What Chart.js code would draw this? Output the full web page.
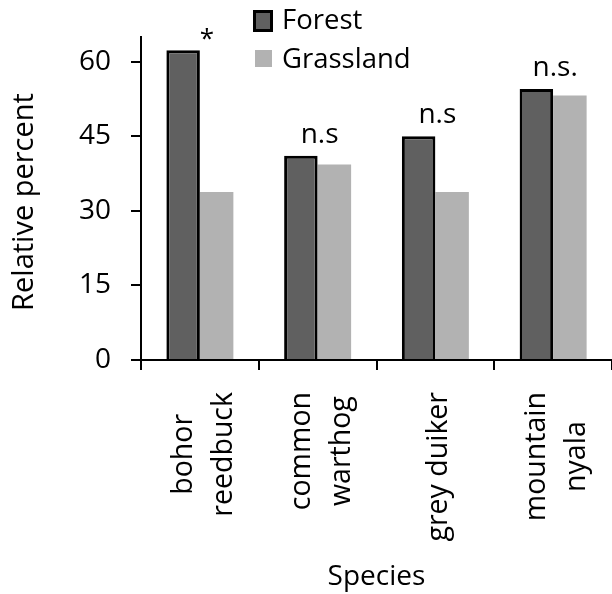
<!DOCTYPE html>
<html>
<head>
<meta charset="utf-8">
<script src="https://cdn.jsdelivr.net/npm/chart.js@4"></script>
<style>
  html, body { margin: 0; padding: 0; background: #fff; }
  #wrap { width: 612px; height: 594px; }
</style>
</head>
<body>
<div id="wrap"><canvas id="chart" width="612" height="594"></canvas></div>
<script>
// Chart data
const species = [['bohor', 'reedbuck'], ['common', 'warthog'], ['grey duiker'], ['mountain', 'nyala']];
const forest = [62.3, 41.1, 45.0, 54.5];
const grassland = [33.8, 39.3, 33.8, 53.2];
const yTicks = [0, 15, 30, 45, 60];
const marks = ['*', 'n.s', 'n.s', 'n.s.'];

const FONT = '"Open Sans"';
Chart.defaults.font.family = FONT;
Chart.defaults.color = '#000';

// Draws rotated category labels, axis titles, significance marks and legend
const decor = {
  id: 'decor',
  afterDraw(chart) {
    const { ctx, scales: { x, y } } = chart;
    ctx.save();
    ctx.fillStyle = '#000';

    // category labels, reading bottom to top
    ctx.font = `28.5px ${FONT}`;
    species.forEach((lines, i) => {
      const cx = x.getPixelForValue(i);
      const maxW = Math.max(...lines.map(l => ctx.measureText(l).width));
      lines.forEach((line, k) => {
        const bx = cx + 12 + (k - (lines.length - 1) / 2) * 40;
        ctx.save();
        ctx.translate(bx, 392 + maxW / 2);
        ctx.rotate(-Math.PI / 2);
        ctx.textAlign = 'center';
        ctx.textBaseline = 'alphabetic';
        ctx.fillText(line, 0, 0);
        ctx.restore();
      });
    });

    // axis titles
    ctx.textAlign = 'center';
    ctx.textBaseline = 'alphabetic';
    ctx.font = `28px ${FONT}`;
    ctx.fillText('Species', (chart.chartArea.left + chart.chartArea.right) / 2, 585);
    ctx.save();
    ctx.font = `29px ${FONT}`;
    ctx.translate(33, 202);
    ctx.rotate(-Math.PI / 2);
    ctx.fillText('Relative percent', 0, 0);
    ctx.restore();

    // significance marks
    marks.forEach((m, i) => {
      const cx = x.getPixelForValue(i);
      const top = y.getPixelForValue(Math.max(forest[i], grassland[i]));
      if (m === '*') {
        ctx.font = `26px ${FONT}`;
        ctx.fillText(m, cx + 7, top - 3);
      } else {
        ctx.font = `28px ${FONT}`;
        ctx.fillText(m, cx + 2, top - 13);
      }
    });

    // legend
    const ds = chart.data.datasets;
    ctx.fillStyle = '#000';
    ctx.fillRect(253, 10, 20, 22);
    ctx.fillStyle = ds[0].backgroundColor;
    ctx.fillRect(256, 13, 14, 16);
    ctx.fillStyle = ds[1].backgroundColor;
    ctx.fillRect(255, 50, 17, 17);
    ctx.fillStyle = '#000';
    ctx.font = `27.5px ${FONT}`;
    ctx.textAlign = 'left';
    ctx.fillText(ds[0].label, 282, 29);
    ctx.fillText(ds[1].label, 282, 68);

    ctx.restore();
  }
};

new Chart(document.getElementById('chart'), {
  type: 'bar',
  data: {
    labels: species,
    datasets: [
      {
        label: 'Forest',
        data: forest,
        backgroundColor: '#606060',
        borderColor: '#000',
        borderWidth: { top: 3, left: 3, right: 3, bottom: 0 },
        borderSkipped: false
      },
      {
        label: 'Grassland',
        data: grassland,
        backgroundColor: '#b2b2b2',
        borderWidth: 0
      }
    ]
  },
  options: {
    responsive: false,
    animation: false,
    categoryPercentage: 0.569,
    barPercentage: 1,
    layout: { padding: { top: 29, left: 0, right: 0, bottom: 0 } },
    plugins: {
      legend: { display: false },
      tooltip: { enabled: false }
    },
    scales: {
      x: {
        grid: {
          display: true,
          offset: true,
          drawOnChartArea: false,
          drawTicks: true,
          tickLength: 10,
          color: '#000',
          lineWidth: 2
        },
        border: { display: true, color: '#000', width: 2 },
        ticks: { display: false },
        afterFit(s) { s.height = 234; }
      },
      y: {
        min: 0,
        max: 65,
        afterBuildTicks(s) { s.ticks = yTicks.map(v => ({ value: v })); },
        ticks: { font: { size: 28 }, color: '#000', padding: 20 },
        grid: {
          drawOnChartArea: false,
          drawTicks: true,
          tickLength: 10,
          color: '#000',
          lineWidth: 2
        },
        border: { display: true, color: '#000', width: 2 },
        afterFit(s) { s.width = 141; }
      }
    }
  },
  plugins: [decor]
});
</script>
</body>
</html>
